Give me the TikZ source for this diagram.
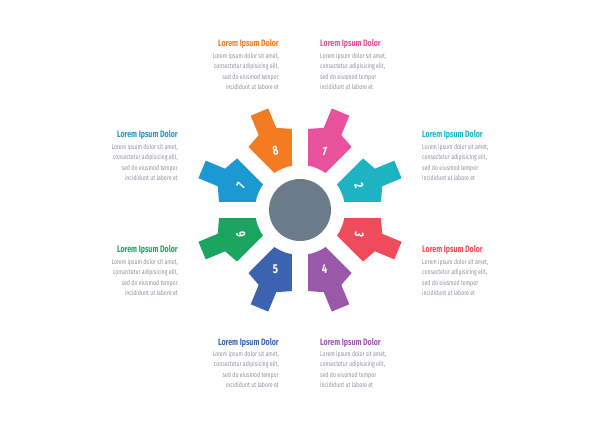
\documentclass[tikz,border=0pt]{standalone}
\usepackage{fontspec}
\setmainfont{Fira Sans}[FakeStretch=0.75]
\usetikzlibrary{positioning,calc}
\definecolor{segpink}{HTML}{E8519C}
\definecolor{segteal}{HTML}{1DB3C3}
\definecolor{segred}{HTML}{EE4B5B}
\definecolor{segpurple}{HTML}{9A58A8}
\definecolor{segblue}{HTML}{3C63B0}
\definecolor{seggreen}{HTML}{1BA560}
\definecolor{segcyan}{HTML}{1C98D3}
\definecolor{segorange}{HTML}{F37B22}
\definecolor{hubgrey}{HTML}{6C7B8A}
\definecolor{textgrey}{HTML}{8C919B}

\tikzset{
    title/.style={inner sep=0pt, font=\fontsize{8}{8}\selectfont\bfseries},
    body/.style={inner sep=0pt, text=textgrey, font=\fontsize{5.9}{8.8}\selectfont},
    num/.style={text=white, font=\fontsize{11}{11}\selectfont\bfseries}
}

\begin{document}
\begin{tikzpicture}[x=0.03cm, y=0.03cm]
    \useasboundingbox (0,0) rectangle (600,425);
    \coordinate (c) at (300,215);

    % Segments
    \foreach \ang/\col/\num/\rot in {67.5/segpink/1/-20, 22.5/segteal/2/-75,
        -22.5/segred/3/-100, -67.5/segpurple/4/0, -112.5/segblue/5/0,
        -157.5/seggreen/6/100, 157.5/segcyan/7/65, 112.5/segorange/8/12}{
        \begin{scope}[shift={(c)}, rotate=\ang]
            \fill[\col] (-12.26:45) -- (78,-23.5) -- (85,-9.5) -- (106,-9.5)
                -- (106,9.5) -- (85,9.5) -- (78,23.5) -- (12.26:45)
                arc[start angle=12.26, end angle=-12.26, radius=45] -- cycle;
        \end{scope}
        \node[num, rotate=\rot] (n\num) at ($(c)+(\ang:64)$) {\num};
    }

    % Hub
    \fill[hubgrey] (c) circle[radius=31];

    % Texts, left side
    \node[title, text=segorange, anchor=base east] (t8) at (279,378) {Lorem Ipsum Dolor};
    \node[body, anchor=north east, align=right] (b8) at ([yshift=-3pt]t8.south east)
        {Lorem ipsum dolor sit amet,\\consectetur adipisicing elit,\\sed do eiusmod tempor\\incididunt ut labore et};
    \node[title, text=segcyan, anchor=base east] (t7) at (178,287) {Lorem Ipsum Dolor};
    \node[body, anchor=north east, align=right] (b7) at ([yshift=-3pt]t7.south east)
        {Lorem ipsum dolor sit amet,\\consectetur adipisicing elit,\\sed do eiusmod tempor\\incididunt ut labore et};
    \node[title, text=seggreen, anchor=base east] (t6) at (178,172) {Lorem Ipsum Dolor};
    \node[body, anchor=north east, align=right] (b6) at ([yshift=-3pt]t6.south east)
        {Lorem ipsum dolor sit amet,\\consectetur adipisicing elit,\\sed do eiusmod tempor\\incididunt ut labore et};
    \node[title, text=segblue, anchor=base east] (t5) at (279,80) {Lorem Ipsum Dolor};
    \node[body, anchor=north east, align=right] (b5) at ([yshift=-3pt]t5.south east)
        {Lorem ipsum dolor sit amet,\\consectetur adipisicing elit,\\sed do eiusmod tempor\\incididunt ut labore et};

    % Texts, right side
    \node[title, text=segpink, anchor=base west] (t1) at (320,378) {Lorem Ipsum Dolor};
    \node[body, anchor=north west, align=left] (b1) at ([yshift=-3pt]t1.south west)
        {Lorem ipsum dolor sit amet,\\consectetur adipisicing elit,\\sed do eiusmod tempor\\incididunt ut labore et};
    \node[title, text=segteal, anchor=base west] (t2) at (422,287) {Lorem Ipsum Dolor};
    \node[body, anchor=north west, align=left] (b2) at ([yshift=-3pt]t2.south west)
        {Lorem ipsum dolor sit amet,\\consectetur adipisicing elit,\\sed do eiusmod tempor\\incididunt ut labore et};
    \node[title, text=segred, anchor=base west] (t3) at (422,172) {Lorem Ipsum Dolor};
    \node[body, anchor=north west, align=left] (b3) at ([yshift=-3pt]t3.south west)
        {Lorem ipsum dolor sit amet,\\consectetur adipisicing elit,\\sed do eiusmod tempor\\incididunt ut labore et};
    \node[title, text=segpurple, anchor=base west] (t4) at (320,80) {Lorem Ipsum Dolor};
    \node[body, anchor=north west, align=left] (b4) at ([yshift=-3pt]t4.south west)
        {Lorem ipsum dolor sit amet,\\consectetur adipisicing elit,\\sed do eiusmod tempor\\incididunt ut labore et};
\end{tikzpicture}
\end{document}
